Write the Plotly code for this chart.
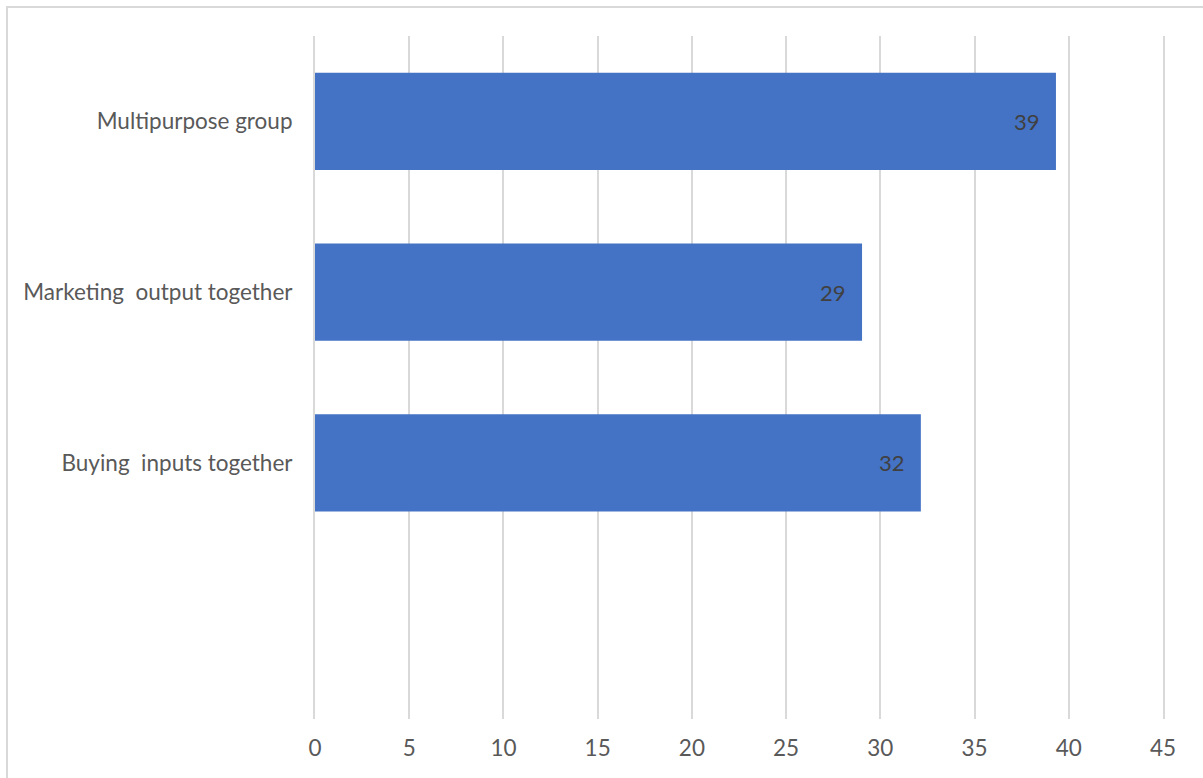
import plotly.graph_objects as go

categories = ["Buying  inputs together", "Marketing  output together", "Multipurpose group"]
values = [32.15, 29.03, 39.32]
x_ticks = [0, 5, 10, 15, 20, 25, 30, 35, 40, 45]

FONT = "Lato"
fig = go.Figure()
fig.add_trace(go.Bar(
    x=values, y=list(range(len(categories))), orientation="h",
    marker=dict(color="#4472C4", line=dict(width=0)),
    width=0.57,
    hoverinfo="skip",
))
for i, v in enumerate(values):
    fig.add_annotation(x=v, y=i, text=f"{v:.0f}", showarrow=False,
                       xanchor="right", xshift=-14,
                       font=dict(family=FONT, size=22, color="#404040"))

W, H = 1203, 778
L, T = 315, 36
R = W - 1163
B = H - 719
pw, ph = W - L - R, H - T - B
fig.update_layout(
    width=W, height=H,
    margin=dict(l=L, r=R, t=T, b=B, pad=0),
    paper_bgcolor="white", plot_bgcolor="white",
    showlegend=False,
    font=dict(family=FONT, color="#595959", size=22.5),
    xaxis=dict(range=[0, 45], tickvals=x_ticks, showgrid=True, gridcolor="#d9d9d9",
               gridwidth=2, zeroline=False, showline=False, ticks="",
               tickfont=dict(size=22.5, color="#595959"), ticklabelstandoff=13),
    yaxis=dict(range=[-1.5, 2.5], tickvals=list(range(len(categories))), ticktext=categories,
               showgrid=False, zeroline=False, showline=True, mirror=True,
               linecolor="#d9d9d9", linewidth=2, ticks="",
               tickfont=dict(size=22.5, color="#595959"), ticklabelstandoff=16),
    shapes=[dict(type="rect", xref="paper", yref="paper",
                 x0=(7 - L) / pw, x1=(W + 10 - L) / pw,
                 y0=-(B + 10) / ph, y1=1 + (T - 7) / ph,
                 line=dict(color="#d9d9d9", width=2), fillcolor="rgba(0,0,0,0)", layer="below")],
)
fig.write_html("out.html", config={"displayModeBar": False},
               post_script="document.body.style.margin='0px';")
